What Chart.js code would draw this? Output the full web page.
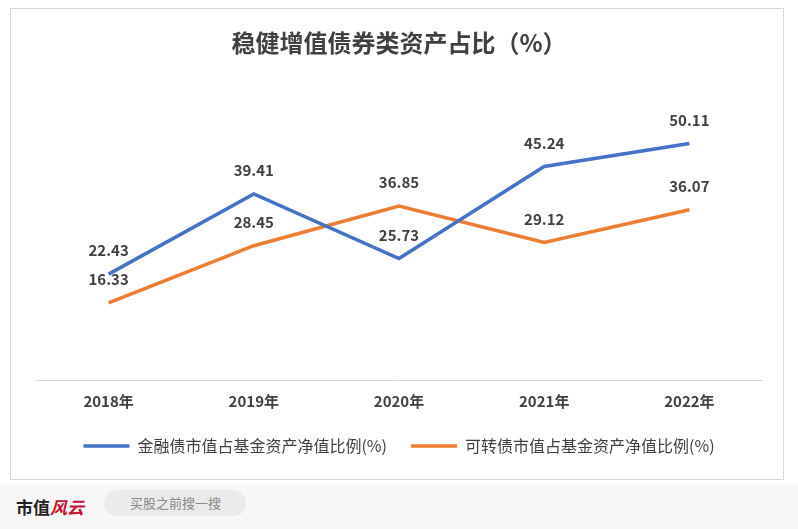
<!DOCTYPE html>
<html><head><meta charset="utf-8">
<script src="https://cdn.jsdelivr.net/npm/chart.js@4/dist/chart.umd.min.js"></script>
<style>
body{margin:0;background:#fff;font-family:"Noto Sans CJK SC","Noto Sans",sans-serif;}
#card{position:absolute;left:10px;top:8px;width:774px;height:472px;border:1px solid #d9d9d9;box-sizing:border-box;}
#wrap{position:absolute;left:20px;top:12px;width:756px;height:452px;}
#foot{position:absolute;left:0;top:484px;width:798px;height:45px;background:#f7f7f7;}
#logo{position:absolute;left:16px;top:10px;font-size:17px;font-weight:bold;color:#222;}
#logo span{color:#c8102e;font-style:italic;}
#search{position:absolute;left:104px;top:6px;width:142px;height:26px;border-radius:13px;background:#ebebeb;color:#888;font-size:13px;line-height:26px;padding-left:26px;box-sizing:border-box;}
</style></head><body>
<div id="card"></div>
<div id="wrap"><canvas id="c"></canvas></div>
<div id="foot"><div id="logo">市值<span>风云</span></div><div id="search">买股之前搜一搜</div></div>
<script>
const years = ['2018年', '2019年', '2020年', '2021年', '2022年'];
const jinrong = [22.43, 39.41, 25.73, 45.24, 50.11];
const kezhuan = [16.33, 28.45, 36.85, 29.12, 36.07];

const labelPlugin = {
    id: 'labels',
    afterDatasetsDraw(chart) {
        const ctx = chart.ctx;
        ctx.save();
        ctx.font = 'bold 15px "Noto Sans CJK SC", sans-serif';
        ctx.fillStyle = '#404040';
        ctx.textAlign = 'center';
        ctx.textBaseline = 'bottom';
        chart.data.datasets.forEach((ds, i) => {
            chart.getDatasetMeta(i).data.forEach((pt, j) => {
                ctx.fillText(ds.data[j].toFixed(2), pt.x, pt.y - 16);
            });
        });
        ctx.restore();
    }
};

new Chart(document.getElementById('c'), {
    type: 'line',
    data: {
        labels: years,
        datasets: [
            { label: '金融债市值占基金资产净值比例(%)', data: jinrong, borderColor: '#4472c4', backgroundColor: '#4472c4', borderWidth: 3.5, pointRadius: 0, tension: 0 },
            { label: '可转债市值占基金资产净值比例(%)', data: kezhuan, borderColor: '#ed7d31', backgroundColor: '#ed7d31', borderWidth: 3.5, pointRadius: 0, tension: 0 }
        ]
    },
    options: {
        responsive: true,
        maintainAspectRatio: false,
        animation: false,
        layout: { padding: { left: 16, right: 14, top: 0, bottom: 0 } },
        plugins: {
            title: { display: true, text: '稳健增值债券类资产占比（%）', color: '#404040', font: { size: 24, weight: 'bold', family: '"Noto Sans CJK SC"' }, padding: { top: 16, bottom: 40 } },
            legend: {
                position: 'bottom',
                labels: {
                    color: '#404040', font: { size: 16, family: '"Noto Sans CJK SC"' },
                    boxWidth: 46, boxHeight: 0, padding: 24,
                    generateLabels: (chart) => chart.data.datasets.map((ds, i) => ({
                        text: ds.label, strokeStyle: ds.borderColor, fillStyle: ds.borderColor, lineWidth: 3.5, datasetIndex: i, fontColor: '#404040'
                    }))
                }
            },
            tooltip: { enabled: false }
        },
        scales: {
            x: {
                offset: true,
                grid: { display: false },
                border: { color: '#d9d9d9' },
                ticks: { color: '#404040', font: { size: 15, weight: 'bold', family: '"Noto Sans CJK SC"' }, padding: 4 }
            },
            y: { display: false, min: 0, max: 60 }
        }
    },
    plugins: [labelPlugin]
});
</script>
</body></html>
